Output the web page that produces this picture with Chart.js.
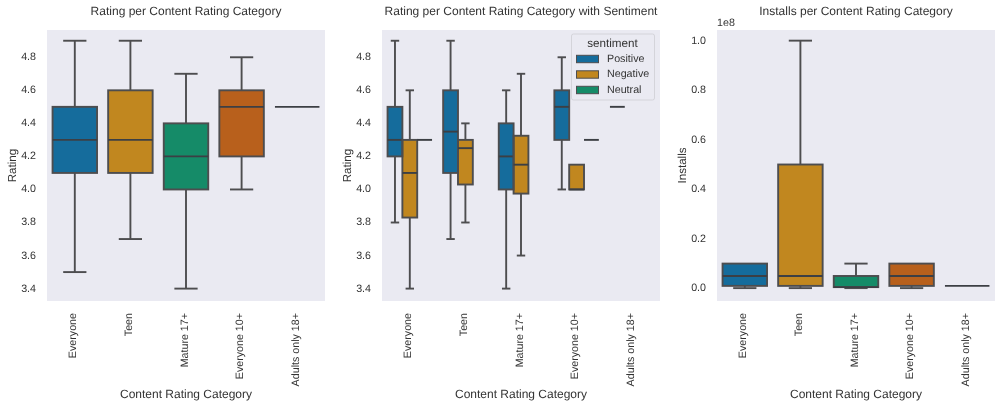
<!DOCTYPE html>
<html>
<head>
<meta charset="utf-8">
<title>Content Rating boxplots</title>
<script src="https://cdn.jsdelivr.net/npm/chart.js@4/dist/chart.umd.min.js"></script>
<style>
    html, body { margin: 0; padding: 0; background: #fff; overflow: hidden; width: 1001px; height: 407px; }
    canvas { position: absolute; top: 0; }
</style>
</head>
<body>
<canvas id="ratingChart" width="335" height="407" style="left:0"></canvas>
<canvas id="sentimentChart" width="335" height="407" style="left:335px"></canvas>
<canvas id="installsChart" width="335" height="407" style="left:670px"></canvas>
<script>
const categories = ['Everyone', 'Teen', 'Mature 17+', 'Everyone 10+', 'Adults only 18+'];
const sentiments = ['Positive', 'Negative', 'Neutral'];

const ratingTicks = [3.4, 3.6, 3.8, 4.0, 4.2, 4.4, 4.6, 4.8];
const installTicks = [0, 2e7, 4e7, 6e7, 8e7, 1e8];

// each box is [low whisker, q1, median, q3, high whisker]
const ratingBoxes = [
    [3.5, 4.1, 4.3, 4.5, 4.9],
    [3.7, 4.1, 4.3, 4.6, 4.9],
    [3.4, 4.0, 4.2, 4.4, 4.7],
    [4.0, 4.2, 4.5, 4.6, 4.8],
    [4.5, 4.5, 4.5, 4.5, 4.5]
];
const positiveBoxes = [
    [3.8, 4.2, 4.3, 4.5, 4.9],
    [3.7, 4.1, 4.35, 4.6, 4.9],
    [3.4, 4.0, 4.2, 4.4, 4.6],
    [4.0, 4.3, 4.5, 4.6, 4.8],
    [4.5, 4.5, 4.5, 4.5, 4.5]
];
const negativeBoxes = [
    [3.4, 3.83, 4.1, 4.3, 4.6],
    [3.8, 4.03, 4.25, 4.3, 4.4],
    [3.6, 3.975, 4.15, 4.325, 4.7],
    [4.0, 4.0, 4.0, 4.15, 4.15],
    null
];
const neutralBoxes = [
    [4.3, 4.3, 4.3, 4.3, 4.3],
    null,
    null,
    [4.3, 4.3, 4.3, 4.3, 4.3],
    null
];
const installBoxes = [
    [1e5, 1e6, 5e6, 1e7, 1e7],
    [1e5, 1e6, 5e6, 5e7, 1e8],
    [1e5, 5e5, 5e5, 5e6, 1e7],
    [1e5, 1e6, 5e6, 1e7, 1e7],
    [1e6, 1e6, 1e6, 1e6, 1e6]
];

const palette = ['#156c9c', '#c1871f', '#158b68', '#b8601c'];
const lineColor = '#4d4d4f';
const medianColor = '#3c3f44';
const textColor = '#333333';
const fontFamily = '"Liberation Sans", Arial, sans-serif';

// fills the axes background, drawn before anything else
const panelBackground = {
    id: 'panelBackground',
    beforeDraw(chart) {
        const { ctx, chartArea: a } = chart;
        ctx.textRendering = 'geometricPrecision'; // unhinted text widths, closer to the original
        ctx.save();
        ctx.fillStyle = '#eaeaf2';
        ctx.fillRect(a.left, a.top, a.right - a.left, a.bottom - a.top);
        ctx.restore();
    }
};

// whiskers, caps, outline and median on top of the floating bars
const boxOverlay = {
    id: 'boxOverlay',
    afterDatasetsDraw(chart) {
        const { ctx } = chart;
        const y = chart.scales.y;
        const line = (x1, y1, x2, y2, color) => {
            ctx.strokeStyle = color;
            ctx.beginPath();
            ctx.moveTo(x1, y1);
            ctx.lineTo(x2, y2);
            ctx.stroke();
        };
        ctx.save();
        ctx.lineWidth = 1.9;
        chart.data.datasets.forEach((ds, d) => {
            chart.getDatasetMeta(d).data.forEach((bar, i) => {
                const box = ds.boxes[i];
                if (!box) return;
                const [lo, q1, med, q3, hi] = box.map(v => y.getPixelForValue(v));
                const half = bar.width / 2;
                const cap = bar.width / 4 + 0.5;
                if (lo !== q1) {
                    line(bar.x, q1, bar.x, lo, lineColor);
                    line(bar.x - cap, lo, bar.x + cap, lo, lineColor);
                }
                if (hi !== q3) {
                    line(bar.x, q3, bar.x, hi, lineColor);
                    line(bar.x - cap, hi, bar.x + cap, hi, lineColor);
                }
                if (q1 !== q3) {
                    ctx.strokeStyle = lineColor;
                    ctx.strokeRect(bar.x - half, q3, bar.width, q1 - q3);
                }
                line(bar.x - half, med, bar.x + half, med, medianColor);
            });
        });
        ctx.restore();
    }
};

// sentiment legend sitting inside the second panel
const sentimentLegend = {
    id: 'sentimentLegend',
    afterDraw(chart) {
        const { ctx } = chart;
        const left = chart.chartArea.right - 88.5;
        const top = 34;
        ctx.save();
        ctx.fillStyle = 'rgba(234,234,242,0.85)';
        ctx.strokeStyle = '#d4d4da';
        ctx.lineWidth = 1;
        ctx.beginPath();
        ctx.roundRect(left, top, 83, 66, 2);
        ctx.fill();
        ctx.stroke();
        ctx.fillStyle = textColor;
        ctx.textBaseline = 'middle';
        ctx.font = '11.7px ' + fontFamily;
        ctx.textAlign = 'center';
        ctx.fillText('sentiment', left + 41, top + 9.5);
        ctx.font = '10.7px ' + fontFamily;
        ctx.textAlign = 'left';
        chart.data.datasets.forEach((ds, i) => {
            const rowY = top + 25 + i * 15.5;
            ctx.fillStyle = ds.backgroundColor;
            ctx.fillRect(left + 5, rowY - 3.7, 22, 7.4);
            ctx.strokeStyle = lineColor;
            ctx.lineWidth = 1;
            ctx.strokeRect(left + 5, rowY - 3.7, 22, 7.4);
            ctx.fillStyle = textColor;
            ctx.fillText(ds.label, left + 35.5, rowY);
        });
        ctx.restore();
    }
};

// the "1e8" scale multiplier above the installs axis
const offsetText = {
    id: 'offsetText',
    afterDraw(chart) {
        const { ctx, chartArea } = chart;
        ctx.save();
        ctx.fillStyle = textColor;
        ctx.font = '10.7px ' + fontFamily;
        ctx.textBaseline = 'middle';
        ctx.fillText('1e8', chartArea.left, 23);
        ctx.restore();
    }
};

function floating(boxes) {
    return boxes.map(b => (b ? [b[1], b[3]] : null));
}

function makeOptions(title, yLabel, yMin, yMax, yTicks, yFormat) {
    return {
        responsive: false,
        animation: false,
        events: [],
        layout: { padding: { right: 10, left: 0, top: 0, bottom: 0 } },
        plugins: {
            legend: { display: false },
            tooltip: { enabled: false },
            title: {
                display: true,
                text: title,
                fullSize: false,
                color: textColor,
                font: { family: fontFamily, size: 12, weight: 'normal', lineHeight: 1.2 },
                padding: { top: 4.6, bottom: 11 }
            }
        },
        scales: {
            x: {
                grid: { display: false, drawTicks: false },
                border: { display: false },
                ticks: {
                    autoSkip: false, minRotation: 90, maxRotation: 90, padding: 12, labelOffset: -1.3,
                    color: textColor, font: { family: fontFamily, size: 10.7 }
                },
                title: {
                    display: true, text: 'Content Rating Category', color: textColor,
                    font: { family: fontFamily, size: 12 }, padding: { top: 0, bottom: 5 }
                },
                afterFit(scale) { scale.height = 106; }
            },
            y: {
                min: yMin,
                max: yMax,
                grid: { display: false, drawTicks: false },
                border: { display: false },
                afterBuildTicks(scale) { scale.ticks = yTicks.map(value => ({ value })); },
                ticks: {
                    padding: 11, color: textColor, font: { family: fontFamily, size: 10.7 },
                    callback: yFormat
                },
                title: {
                    display: true, text: yLabel, color: textColor,
                    font: { family: fontFamily, size: 11.6 }, padding: { top: 5.5, bottom: 0 }
                },
                afterFit(scale) { scale.width = 47; }
            }
        }
    };
}

const oneDecimal = v => v.toFixed(1);

new Chart(document.getElementById('ratingChart'), {
    type: 'bar',
    data: {
        labels: categories,
        datasets: [{
            data: floating(ratingBoxes),
            boxes: ratingBoxes,
            backgroundColor: palette,
            borderWidth: 0,
            barPercentage: 1,
            categoryPercentage: 0.8
        }]
    },
    options: makeOptions('Rating per Content Rating Category', 'Rating', 3.325, 4.965, ratingTicks, oneDecimal),
    plugins: [panelBackground, boxOverlay]
});

new Chart(document.getElementById('sentimentChart'), {
    type: 'bar',
    data: {
        labels: categories,
        datasets: [positiveBoxes, negativeBoxes, neutralBoxes].map((boxes, i) => ({
            label: sentiments[i],
            data: floating(boxes),
            boxes: boxes,
            backgroundColor: palette[i],
            borderWidth: 0,
            barPercentage: 1,
            categoryPercentage: 0.8
        }))
    },
    options: makeOptions('Rating per Content Rating Category with Sentiment', 'Rating', 3.325, 4.965, ratingTicks, oneDecimal),
    plugins: [panelBackground, boxOverlay, sentimentLegend]
});

new Chart(document.getElementById('installsChart'), {
    type: 'bar',
    data: {
        labels: categories,
        datasets: [{
            data: floating(installBoxes),
            boxes: installBoxes,
            backgroundColor: palette,
            borderWidth: 0,
            barPercentage: 1,
            categoryPercentage: 0.8
        }]
    },
    options: makeOptions('Installs per Content Rating Category', 'Installs', -5.1e6, 1.043e8, installTicks, v => (v / 1e8).toFixed(1)),
    plugins: [panelBackground, boxOverlay, offsetText]
});
</script>
</body>
</html>
